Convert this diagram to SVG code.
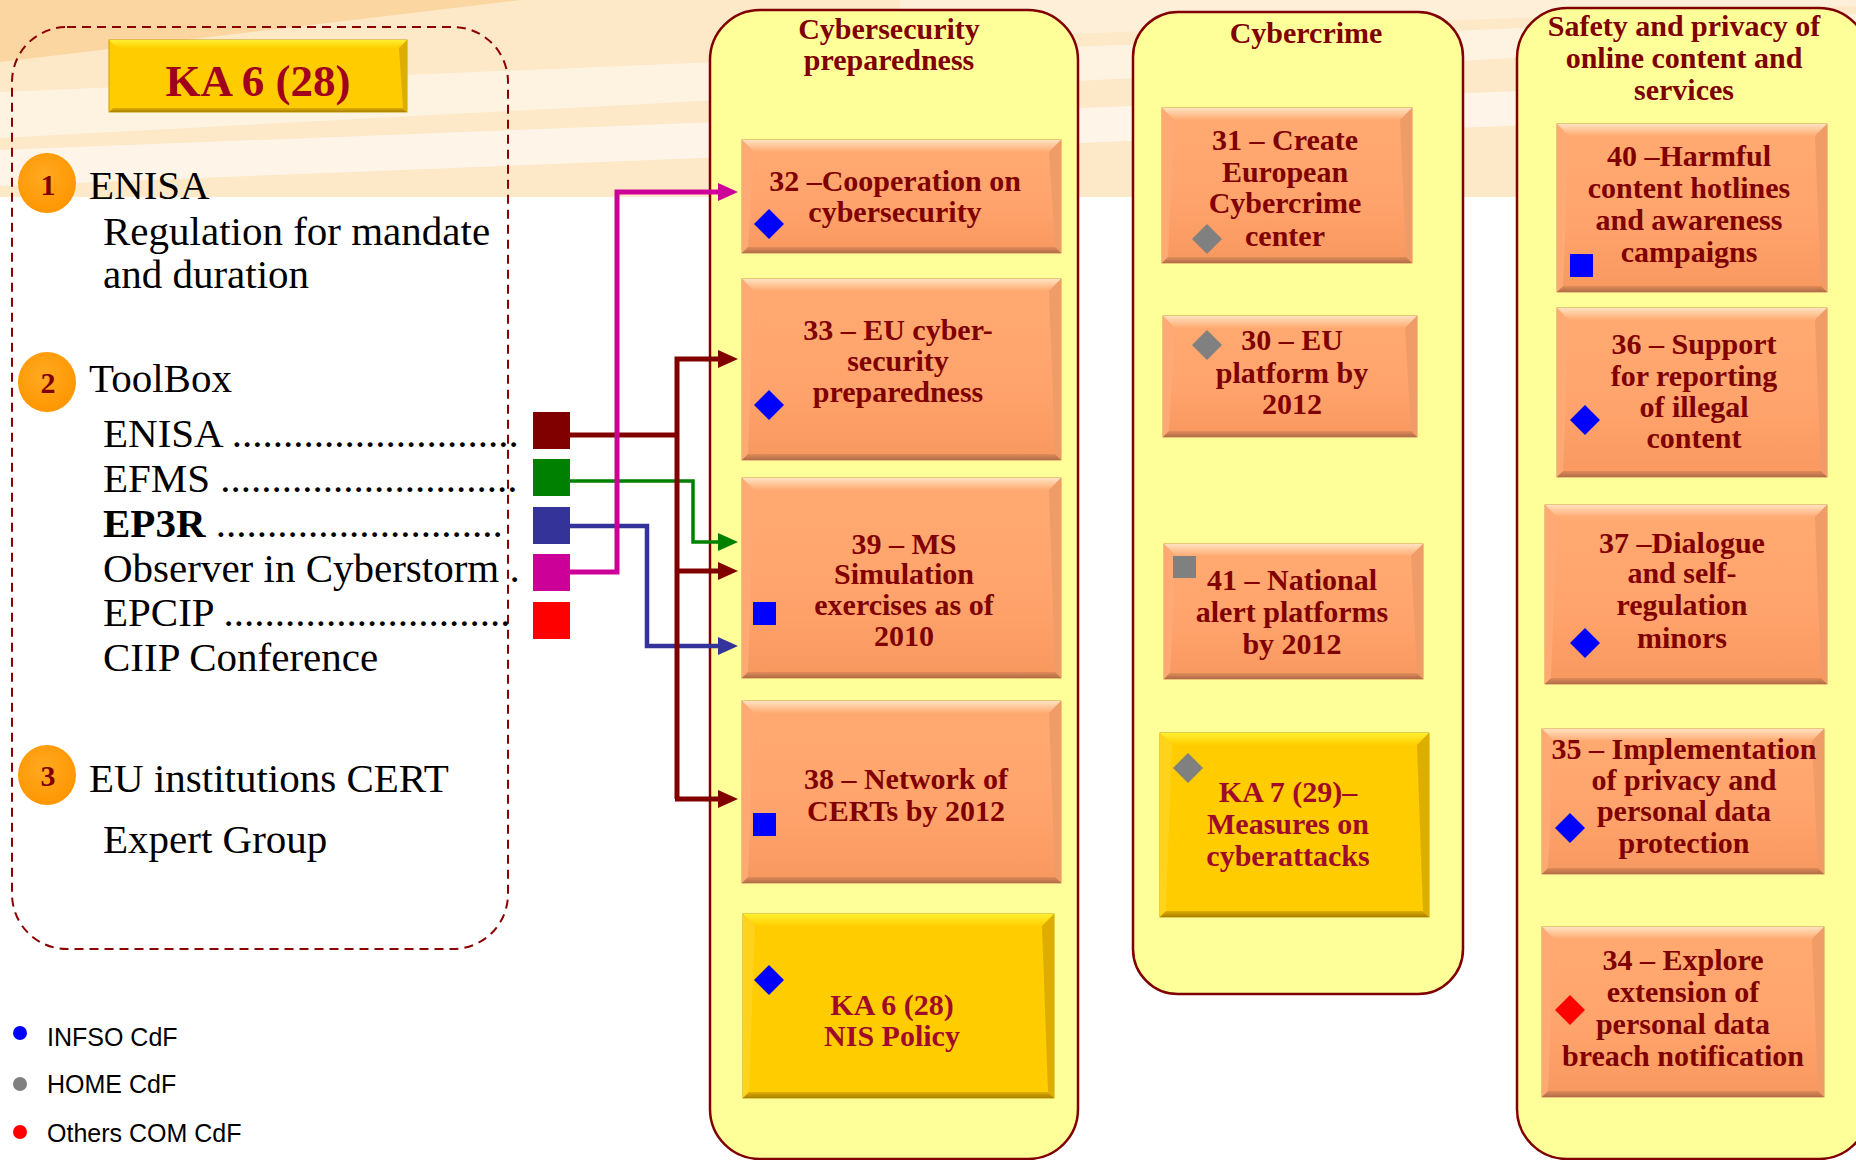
<svg xmlns="http://www.w3.org/2000/svg" width="1856" height="1160" viewBox="0 0 1856 1160">
<defs>
<style>
.lt{font-family:"Liberation Serif","DejaVu Serif",serif;font-size:41px;fill:#000}
.num{font-family:"Liberation Serif","DejaVu Serif",serif;font-size:30px;font-weight:bold;fill:#800000;text-anchor:middle}
.hd{font-family:"Liberation Serif","DejaVu Serif",serif;font-size:45px;font-weight:bold;fill:#A0001E;text-anchor:middle}
.ct{font-family:"Liberation Serif","DejaVu Serif",serif;font-size:30px;font-weight:bold;fill:#7F0000;text-anchor:middle}
.bt{font-family:"Liberation Serif","DejaVu Serif",serif;font-size:30px;font-weight:bold;fill:#800000;text-anchor:middle}
.gtx{font-family:"Liberation Serif","DejaVu Serif",serif;font-size:30px;font-weight:bold;fill:#A00A2A;text-anchor:middle}
.lg{font-family:"Liberation Sans","Arial",sans-serif;font-size:25px;fill:#000}
.col{fill:#FFFF99;stroke:#800000;stroke-width:2.5}
.ob{fill:url(#gO);stroke:#D88A58;stroke-width:1}
.obt{fill:url(#gOT)}
.obb{fill:url(#gOB)}
.obl{fill:#FFAA74}
.obr{fill:#F09C68}
.gb{fill:#FFCC00;stroke:#C9A000;stroke-width:1}
.gbt{fill:url(#gGT)}
.gbb{fill:url(#gGB)}
.gbl{fill:#FFD21C}
.gbr{fill:#DDAE00}
.cn{fill:none;stroke-linejoin:miter}
</style>
<linearGradient id="gO" x1="0" y1="0" x2="0" y2="1"><stop offset="0" stop-color="#FFAA72"/><stop offset="0.6" stop-color="#FFA36C"/><stop offset="1" stop-color="#F7985F"/></linearGradient>
<linearGradient id="gOT" x1="0" y1="0" x2="0" y2="1"><stop offset="0" stop-color="#FFE2C0"/><stop offset="1" stop-color="#FFAA72"/></linearGradient>
<linearGradient id="gOB" x1="0" y1="0" x2="0" y2="1"><stop offset="0" stop-color="#E08C58"/><stop offset="1" stop-color="#B06C48"/></linearGradient>
<linearGradient id="gGT" x1="0" y1="0" x2="0" y2="1"><stop offset="0" stop-color="#FFF030"/><stop offset="1" stop-color="#FFCE00"/></linearGradient>
<linearGradient id="gGB" x1="0" y1="0" x2="0" y2="1"><stop offset="0" stop-color="#E0AE00"/><stop offset="1" stop-color="#A88000"/></linearGradient>
<radialGradient id="gC" cx="0.45" cy="0.4" r="0.6"><stop offset="0" stop-color="#FFAA22"/><stop offset="1" stop-color="#FF9600"/></radialGradient>
<polygon id="dia" points="0,-15 15,0 0,15 -15,0"/>
<marker id="mR" markerUnits="userSpaceOnUse" markerWidth="20" markerHeight="18" refX="10" refY="9" orient="auto"><path d="M0,0 L20,9 L0,18 z" fill="#800000"/></marker>
<marker id="mG" markerUnits="userSpaceOnUse" markerWidth="20" markerHeight="18" refX="10" refY="9" orient="auto"><path d="M0,0 L20,9 L0,18 z" fill="#008000"/></marker>
<marker id="mN" markerUnits="userSpaceOnUse" markerWidth="20" markerHeight="18" refX="10" refY="9" orient="auto"><path d="M0,0 L20,9 L0,18 z" fill="#333399"/></marker>
<marker id="mM" markerUnits="userSpaceOnUse" markerWidth="20" markerHeight="18" refX="10" refY="9" orient="auto"><path d="M0,0 L20,9 L0,18 z" fill="#CC0099"/></marker>
</defs>

<rect x="0" y="0" width="1856" height="1160" fill="#FFFFFF"/>
<g id="background">
<rect x="0" y="0" width="1856" height="197" fill="#FDE8C8"/>
<polygon points="0,0 520,0 0,62" fill="#FBD6A0"/>
<polygon points="0,92 1856,14 1856,40 0,138" fill="#FEF2E0"/>
<polygon points="0,150 1856,78 1856,112 0,186" fill="#FEF5E8"/>
<polygon points="900,0 1856,0 1856,6 900,40" fill="#FEEFD8"/>
</g>

<g id="ka6-panel">
<rect x="12" y="27" width="496" height="922" rx="55" ry="55" fill="none" stroke="#8B0000" stroke-width="2" stroke-dasharray="9 6"/>
</g>

<g id="ka6-header">
<rect class="gb" x="109" y="40" width="298" height="72"/>
<polygon class="gbt" points="109,40 407,40 399,48 117,48"/>
<polygon class="gbb" points="109,112 407,112 403,108 113,108"/>
<polygon class="gbr" points="407,40 399,48 403,108 407,112"/>
<text class="hd" x="258" y="96">KA 6 (28)</text>
</g>

<g id="item1">
<ellipse cx="47" cy="183" rx="29" ry="30" fill="url(#gC)"/>
<text class="num" x="48" y="195">1</text>
<text class="lt" x="89" y="199">ENISA</text>
<text class="lt" x="103" y="245">Regulation for mandate</text>
<text class="lt" x="103" y="288">and duration</text>
</g>

<g id="item2">
<ellipse cx="47" cy="382" rx="29" ry="30" fill="url(#gC)"/>
<text class="num" x="48" y="393">2</text>
<text class="lt" x="89" y="392">ToolBox</text>
<text class="lt" x="103" y="447">ENISA ............................</text>
<text class="lt" x="103" y="492">EFMS .............................</text>
<text class="lt" x="103" y="537"><tspan font-weight="bold">EP3R</tspan> ............................</text>
<text class="lt" x="103" y="582">Observer in Cyberstorm .</text>
<text class="lt" x="103" y="626">EPCIP ............................</text>
<text class="lt" x="103" y="671">CIIP Conference</text>
</g>

<g id="item3">
<ellipse cx="47" cy="775" rx="29" ry="30" fill="url(#gC)"/>
<text class="num" x="48" y="786">3</text>
<text class="lt" x="89" y="792">EU institutions CERT</text>
<text class="lt" x="103" y="853">Expert Group</text>
</g>

<g id="toolbox-squares">
<rect id="sq-enisa" x="533" y="412" width="37" height="37" fill="#800000"/>
<rect id="sq-efms" x="533" y="459" width="37" height="37" fill="#008000"/>
<rect id="sq-ep3r" x="533" y="507" width="37" height="37" fill="#333399"/>
<rect id="sq-observer" x="533" y="554" width="37" height="37" fill="#CC0099"/>
<rect id="sq-epcip" x="533" y="602" width="37" height="37" fill="#FF0000"/>
</g>

<g id="legend">
<circle cx="20" cy="1033" r="7" fill="#0000FF"/>
<text class="lg" x="47" y="1046">INFSO CdF</text>
<circle cx="20" cy="1084" r="7" fill="#808080"/>
<text class="lg" x="47" y="1093">HOME CdF</text>
<circle cx="20" cy="1132" r="7" fill="#FF0000"/>
<text class="lg" x="47" y="1142">Others COM CdF</text>
</g>

<g id="col-cybersecurity">
<rect class="col" x="710" y="10" width="368" height="1149" rx="50" ry="50"/>
<text class="ct" x="889" y="39">Cybersecurity</text>
<text class="ct" x="889" y="70">preparedness</text>
</g>

<g id="col-cybercrime">
<rect class="col" x="1133" y="12" width="330" height="982" rx="45" ry="45"/>
<text class="ct" x="1306" y="43">Cybercrime</text>
</g>

<g id="col-safety">
<rect class="col" x="1517" y="8" width="352" height="1151" rx="50" ry="50"/>
<text class="ct" x="1684" y="36">Safety and privacy of</text>
<text class="ct" x="1684" y="68">online content and</text>
<text class="ct" x="1684" y="100">services</text>
</g>

<g id="connectors">
<path class="cn" d="M569,481 H693 V542 H728" stroke="#008000" stroke-width="3.5" marker-end="url(#mG)"/>
<path class="cn" d="M569,526 H647 V646 H728" stroke="#333399" stroke-width="4.5" marker-end="url(#mN)"/>
<path class="cn" d="M569,435 H677" stroke="#800000" stroke-width="5"/>
<path class="cn" d="M677,799 V359 H728" stroke="#800000" stroke-width="5" marker-end="url(#mR)"/>
<path class="cn" d="M677,571 H728" stroke="#800000" stroke-width="5" marker-end="url(#mR)"/>
<path class="cn" d="M675,799 H728" stroke="#800000" stroke-width="5" marker-end="url(#mR)"/>
<path class="cn" d="M569,572 H617 V192 H728" stroke="#CC0099" stroke-width="5" marker-end="url(#mM)"/>
</g>

<g id="n32">
<rect class="ob" x="742" y="140" width="319" height="113"/>
<polygon class="obt" points="742,140 1061,140 1049,152 754,152"/>
<polygon class="obl" points="742,140 754,152 748,247 742,253"/>
<polygon class="obr" points="1061,140 1049,152 1055,247 1061,253"/>
<polygon class="obb" points="742,253 1061,253 1055,247 748,247"/>
<use href="#dia" x="769" y="224" fill="#0000FF"/>
<text class="bt" x="895" y="191">32 –Cooperation on</text>
<text class="bt" x="895" y="222">cybersecurity</text>
</g>

<g id="n33">
<rect class="ob" x="742" y="279" width="319" height="181"/>
<polygon class="obt" points="742,279 1061,279 1049,291 754,291"/>
<polygon class="obl" points="742,279 754,291 748,454 742,460"/>
<polygon class="obr" points="1061,279 1049,291 1055,454 1061,460"/>
<polygon class="obb" points="742,460 1061,460 1055,454 748,454"/>
<use href="#dia" x="769" y="405" fill="#0000FF"/>
<text class="bt" x="898" y="340">33 – EU cyber-</text>
<text class="bt" x="898" y="371">security</text>
<text class="bt" x="898" y="402">preparedness</text>
</g>

<g id="n39">
<rect class="ob" x="742" y="478" width="319" height="200"/>
<polygon class="obt" points="742,478 1061,478 1049,490 754,490"/>
<polygon class="obl" points="742,478 754,490 748,672 742,678"/>
<polygon class="obr" points="1061,478 1049,490 1055,672 1061,678"/>
<polygon class="obb" points="742,678 1061,678 1055,672 748,672"/>
<rect x="753" y="602" width="23" height="23" fill="#0000FF"/>
<text class="bt" x="904" y="554">39 – MS</text>
<text class="bt" x="904" y="584">Simulation</text>
<text class="bt" x="904" y="615">exercises as of</text>
<text class="bt" x="904" y="646">2010</text>
</g>

<g id="n38">
<rect class="ob" x="742" y="701" width="319" height="182"/>
<polygon class="obt" points="742,701 1061,701 1049,713 754,713"/>
<polygon class="obl" points="742,701 754,713 748,877 742,883"/>
<polygon class="obr" points="1061,701 1049,713 1055,877 1061,883"/>
<polygon class="obb" points="742,883 1061,883 1055,877 748,877"/>
<rect x="753" y="813" width="23" height="23" fill="#0000FF"/>
<text class="bt" x="906" y="789">38 – Network of</text>
<text class="bt" x="906" y="821">CERTs by 2012</text>
</g>

<g id="n-ka6-nis">
<rect class="gb" x="743" y="914" width="311" height="184"/>
<polygon class="gbt" points="743,914 1054,914 1042,926 755,926"/>
<polygon class="gbl" points="743,914 755,926 749,1092 743,1098"/>
<polygon class="gbr" points="1054,914 1042,926 1048,1092 1054,1098"/>
<polygon class="gbb" points="743,1098 1054,1098 1048,1092 749,1092"/>
<use href="#dia" x="769" y="980" fill="#0000FF"/>
<text class="gtx" x="892" y="1015">KA 6 (28)</text>
<text class="gtx" x="892" y="1046">NIS Policy</text>
</g>

<g id="n31">
<rect class="ob" x="1162" y="108" width="250" height="155"/>
<polygon class="obt" points="1162,108 1412,108 1400,120 1174,120"/>
<polygon class="obl" points="1162,108 1174,120 1168,257 1162,263"/>
<polygon class="obr" points="1412,108 1400,120 1406,257 1412,263"/>
<polygon class="obb" points="1162,263 1412,263 1406,257 1168,257"/>
<use href="#dia" x="1207" y="239" fill="#808080"/>
<text class="bt" x="1285" y="150">31 – Create</text>
<text class="bt" x="1285" y="182">European</text>
<text class="bt" x="1285" y="213">Cybercrime</text>
<text class="bt" x="1285" y="246">center</text>
</g>

<g id="n30">
<rect class="ob" x="1163" y="316" width="254" height="121"/>
<polygon class="obt" points="1163,316 1417,316 1405,328 1175,328"/>
<polygon class="obl" points="1163,316 1175,328 1169,431 1163,437"/>
<polygon class="obr" points="1417,316 1405,328 1411,431 1417,437"/>
<polygon class="obb" points="1163,437 1417,437 1411,431 1169,431"/>
<use href="#dia" x="1207" y="345" fill="#808080"/>
<text class="bt" x="1292" y="350">30 – EU</text>
<text class="bt" x="1292" y="383">platform by</text>
<text class="bt" x="1292" y="414">2012</text>
</g>

<g id="n41">
<rect class="ob" x="1164" y="544" width="259" height="135"/>
<polygon class="obt" points="1164,544 1423,544 1411,556 1176,556"/>
<polygon class="obl" points="1164,544 1176,556 1170,673 1164,679"/>
<polygon class="obr" points="1423,544 1411,556 1417,673 1423,679"/>
<polygon class="obb" points="1164,679 1423,679 1417,673 1170,673"/>
<rect x="1173" y="556" width="23" height="22" fill="#808080"/>
<text class="bt" x="1292" y="590">41 – National</text>
<text class="bt" x="1292" y="622">alert platforms</text>
<text class="bt" x="1292" y="654">by 2012</text>
</g>

<g id="n-ka7">
<rect class="gb" x="1160" y="733" width="269" height="184"/>
<polygon class="gbt" points="1160,733 1429,733 1417,745 1172,745"/>
<polygon class="gbl" points="1160,733 1172,745 1166,911 1160,917"/>
<polygon class="gbr" points="1429,733 1417,745 1423,911 1429,917"/>
<polygon class="gbb" points="1160,917 1429,917 1423,911 1166,911"/>
<use href="#dia" x="1188" y="768" fill="#808080"/>
<text class="gtx" x="1288" y="802">KA 7 (29)–</text>
<text class="gtx" x="1288" y="834">Measures on</text>
<text class="gtx" x="1288" y="866">cyberattacks</text>
</g>

<g id="n40">
<rect class="ob" x="1557" y="124" width="270" height="168"/>
<polygon class="obt" points="1557,124 1827,124 1815,136 1569,136"/>
<polygon class="obl" points="1557,124 1569,136 1563,286 1557,292"/>
<polygon class="obr" points="1827,124 1815,136 1821,286 1827,292"/>
<polygon class="obb" points="1557,292 1827,292 1821,286 1563,286"/>
<rect x="1570" y="254" width="23" height="23" fill="#0000FF"/>
<text class="bt" x="1689" y="166">40 –Harmful</text>
<text class="bt" x="1689" y="198">content hotlines</text>
<text class="bt" x="1689" y="230">and awareness</text>
<text class="bt" x="1689" y="262">campaigns</text>
</g>

<g id="n36">
<rect class="ob" x="1557" y="308" width="270" height="169"/>
<polygon class="obt" points="1557,308 1827,308 1815,320 1569,320"/>
<polygon class="obl" points="1557,308 1569,320 1563,471 1557,477"/>
<polygon class="obr" points="1827,308 1815,320 1821,471 1827,477"/>
<polygon class="obb" points="1557,477 1827,477 1821,471 1563,471"/>
<use href="#dia" x="1585" y="420" fill="#0000FF"/>
<text class="bt" x="1694" y="354">36 – Support</text>
<text class="bt" x="1694" y="386">for reporting</text>
<text class="bt" x="1694" y="417">of illegal</text>
<text class="bt" x="1694" y="448">content</text>
</g>

<g id="n37">
<rect class="ob" x="1545" y="505" width="282" height="179"/>
<polygon class="obt" points="1545,505 1827,505 1815,517 1557,517"/>
<polygon class="obl" points="1545,505 1557,517 1551,678 1545,684"/>
<polygon class="obr" points="1827,505 1815,517 1821,678 1827,684"/>
<polygon class="obb" points="1545,684 1827,684 1821,678 1551,678"/>
<use href="#dia" x="1585" y="643" fill="#0000FF"/>
<text class="bt" x="1682" y="553">37 –Dialogue</text>
<text class="bt" x="1682" y="583">and self-</text>
<text class="bt" x="1682" y="615">regulation</text>
<text class="bt" x="1682" y="648">minors</text>
</g>

<g id="n35">
<rect class="ob" x="1542" y="729" width="282" height="145"/>
<polygon class="obt" points="1542,729 1824,729 1812,741 1554,741"/>
<polygon class="obl" points="1542,729 1554,741 1548,868 1542,874"/>
<polygon class="obr" points="1824,729 1812,741 1818,868 1824,874"/>
<polygon class="obb" points="1542,874 1824,874 1818,868 1548,868"/>
<use href="#dia" x="1570" y="828" fill="#0000FF"/>
<text class="bt" x="1684" y="759">35 – Implementation</text>
<text class="bt" x="1684" y="790">of privacy and</text>
<text class="bt" x="1684" y="821">personal data</text>
<text class="bt" x="1684" y="853">protection</text>
</g>

<g id="n34">
<rect class="ob" x="1542" y="927" width="282" height="170"/>
<polygon class="obt" points="1542,927 1824,927 1812,939 1554,939"/>
<polygon class="obl" points="1542,927 1554,939 1548,1091 1542,1097"/>
<polygon class="obr" points="1824,927 1812,939 1818,1091 1824,1097"/>
<polygon class="obb" points="1542,1097 1824,1097 1818,1091 1548,1091"/>
<use href="#dia" x="1570" y="1010" fill="#FF0000"/>
<text class="bt" x="1683" y="970">34 – Explore</text>
<text class="bt" x="1683" y="1002">extension of</text>
<text class="bt" x="1683" y="1034">personal data</text>
<text class="bt" x="1683" y="1066">breach notification</text>
</g>
</svg>
